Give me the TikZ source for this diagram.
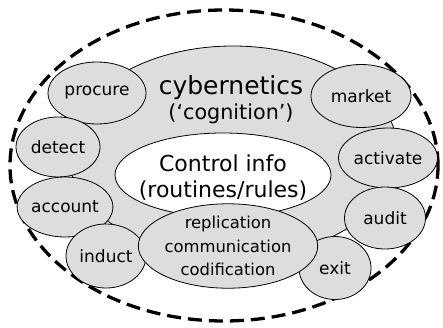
\documentclass[tikz,border=0pt]{standalone}
\usepackage{fontspec}
\setmainfont{DejaVu Sans}
\usetikzlibrary{shapes.geometric}
\definecolor{blobgray}{RGB}{221,221,221}
\tikzset{
  blob/.style={ellipse, draw=black, line width=0.8pt, fill=blobgray, inner sep=0pt, outer sep=0pt},
  lbl/.style={blob, font=\fontsize{17}{20}\selectfont},
  bigtxt/.style={anchor=base, inner sep=0pt},
}
\begin{document}
\begin{tikzpicture}[x=1pt,y=-1pt]
\useasboundingbox (0,0) rectangle (443,328);
% outer dashed boundary
\node[ellipse, draw=black, line width=3.3pt, dash pattern=on 14pt off 7pt,
      minimum width=428pt, minimum height=311pt, inner sep=0pt] (outer) at (224,165.5) {};
% grey cybernetics ring
\node[blob, minimum width=330pt, minimum height=212pt] (cyb) at (233,152) {};
% white core
\node[ellipse, draw=black, line width=0.8pt, fill=white, inner sep=0pt,
      minimum width=216pt, minimum height=84pt] (core) at (223,175) {};
\node[bigtxt, font=\fontsize{25}{30}\selectfont] (cybt) at (231,95) {cybernetics};
\node[bigtxt, font=\fontsize{20.7}{25}\selectfont] (cogt) at (231,120) {(‘cognition’)};
\node[bigtxt, font=\fontsize{22}{26}\selectfont] (ctrlt) at (223,172) {Control info};
\node[bigtxt, font=\fontsize{22}{26}\selectfont] (rult) at (223,198) {(routines/rules)};
% small ellipses
\node[lbl, minimum width=98pt, minimum height=62pt] (procure) at (97,93) {procure};
\node[lbl, minimum width=84pt, minimum height=60pt] (detect) at (58,147) {detect};
\node[lbl, minimum width=80pt, minimum height=60pt] (account) at (65,207) {account};
\node[lbl, minimum width=80pt, minimum height=64pt] (induct) at (106,256) {induct};
\node[lbl, minimum width=100pt, minimum height=63pt] (market) at (361,96) {market};
\node[lbl, minimum width=99pt, minimum height=60pt] (activate) at (388,158) {activate};
\node[lbl, minimum width=81pt, minimum height=62pt] (audit) at (385,218) {audit};
\node[lbl, minimum width=72pt, minimum height=63pt] (exit) at (335,268) {exit};
\node[blob, minimum width=152pt, minimum height=82pt, align=center,
      font=\fontsize{16.4}{23.5}\selectfont] (repl) at (228,246)
      {replication\\communication\\codification};
\end{tikzpicture}
\end{document}
